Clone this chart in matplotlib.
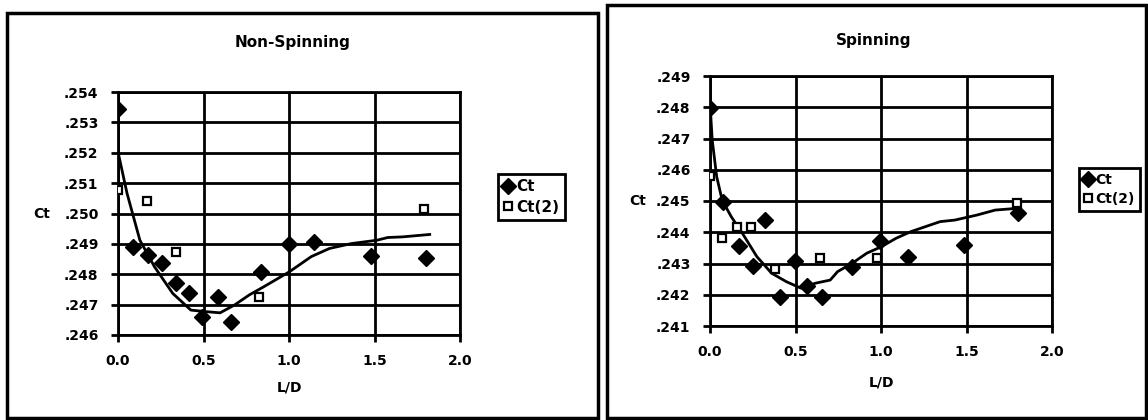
import numpy as np
import matplotlib.pyplot as plt
from matplotlib.patches import Rectangle
from matplotlib.ticker import FuncFormatter

# Non-Spinning data
ns_ld = [0.0, 0.085, 0.177, 0.256, 0.341, 0.416, 0.49, 0.586, 0.661, 0.836, 1.002, 1.145, 1.478, 1.802]
ns_ct = [0.25345, 0.24890, 0.24863, 0.24836, 0.24770, 0.24737, 0.24658, 0.24724, 0.24644,
         0.24808, 0.24901, 0.24905, 0.24860, 0.24852]
ns_ld2 = [0.0, 0.171, 0.337, 0.827, 1.791]
ns_ct2 = [0.25079, 0.25041, 0.24874, 0.24726, 0.25016]
ns_fit_ld = [0.0, 0.053, 0.128, 0.213, 0.32, 0.426, 0.512, 0.597, 0.682, 0.768, 0.853,
             1.002, 1.13, 1.237, 1.365, 1.514, 1.578, 1.663, 1.823]
ns_fit_ct = [0.25203, 0.25066, 0.24912, 0.24825, 0.24737, 0.24682, 0.24677, 0.24673, 0.24699,
             0.24732, 0.24759, 0.24808, 0.24858, 0.24885, 0.24901, 0.24912, 0.24921, 0.24923, 0.24931]

# Spinning data
sp_ld = [0.0, 0.077, 0.171, 0.249, 0.322, 0.407, 0.495, 0.57, 0.656, 0.832, 0.993, 1.158, 1.486, 1.803]
sp_ct = [0.24797, 0.24498, 0.24356, 0.24292, 0.24439, 0.24192, 0.24309, 0.24229, 0.24192,
         0.24288, 0.24373, 0.24320, 0.24359, 0.24461]
sp_ld2 = [0.0, 0.071, 0.159, 0.24, 0.382, 0.643, 0.977, 1.796]
sp_ct2 = [0.24580, 0.24381, 0.24418, 0.24418, 0.24281, 0.24317, 0.24317, 0.24495]
sp_fit_ld = [0.0, 0.013, 0.039, 0.071, 0.124, 0.189, 0.274, 0.36, 0.446, 0.532, 0.617, 0.703,
             0.746, 0.832, 0.917, 1.003, 1.089, 1.175, 1.26, 1.346, 1.432, 1.561, 1.668, 1.807]
sp_fit_ct = [0.24813, 0.24695, 0.24578, 0.24503, 0.2445, 0.24397, 0.24322, 0.24269, 0.24242,
             0.24221, 0.24237, 0.24247, 0.24274, 0.24301, 0.24333, 0.24354, 0.24381, 0.24402,
             0.24418, 0.24434, 0.24439, 0.24455, 0.24471, 0.24477]

plt.rcParams['font.family'] = ['DejaVu Sans']
plt.rcParams['font.weight'] = 'bold'

W, H = 1148, 420


def ct_fmt(v, pos):
    return ("%.3f" % v).lstrip("0")


def draw_panel(ax, title, title_xy, ld, ct, ld2, ct2, fit_ld, fit_ct, ylo, yhi,
               legend_xy, legend_fs, ylab_x, xlab_y):
    ax.plot(fit_ld, fit_ct, color='black', lw=2, zorder=3)
    h1, = ax.plot(ld, ct, ls='none', marker='D', ms=8, color='black', label='Ct', zorder=4)
    h2, = ax.plot(ld2, ct2, ls='none', marker='s', ms=6, mfc='white', mec='black',
                  mew=1.6, label='Ct(2)', zorder=4)
    ax.set_xlim(0, 2.0)
    ax.set_ylim(ylo, yhi)
    ax.set_xticks(np.arange(0, 2.01, 0.5))
    ax.set_yticks(np.arange(ylo, yhi + 0.00001, 0.001))
    ax.xaxis.set_major_formatter(FuncFormatter(lambda v, p: "%.1f" % v))
    ax.yaxis.set_major_formatter(FuncFormatter(ct_fmt))
    ax.grid(True, color='black', lw=2)
    ax.set_axisbelow(True)
    for s in ax.spines.values():
        s.set_linewidth(2)
    ax.tick_params(direction='out', length=5, width=2, labelsize=10, pad=9)
    ax.set_xlabel("L/D", fontsize=10, fontweight='bold', va='center')
    ax.xaxis.set_label_coords(0.5, xlab_y)
    ax.set_ylabel("Ct", fontsize=10, fontweight='bold', rotation=0, ha='center', va='center')
    ax.yaxis.set_label_coords(ylab_x, 0.5)
    fig.text(title_xy[0] / W, 1 - title_xy[1] / H, title, fontsize=11, fontweight='bold',
             ha='center', va='center')
    leg = fig.legend(handles=[h1, h2], loc='upper left', bbox_to_anchor=legend_xy,
                     frameon=True, fancybox=False, edgecolor='black', fontsize=legend_fs,
                     handlelength=0.6, handletextpad=0.25, borderpad=0.35, labelspacing=0.35,
                     borderaxespad=0, framealpha=1)
    leg.get_frame().set_linewidth(2)
    return leg


fig = plt.figure(figsize=(W / 100, H / 100), dpi=100)

ax1 = fig.add_axes([118 / W, 1 - 335 / H, 342 / W, 243 / H])
ax2 = fig.add_axes([710 / W, 1 - 326 / H, 342 / W, 250 / H])

draw_panel(ax1, "Non-Spinning", (293, 42), ns_ld, ns_ct, ns_ld2, ns_ct2, ns_fit_ld, ns_fit_ct,
           0.246, 0.254, (498 / W, 1 - 174 / H), 11, (42 - 118) / 342, (335 - 387) / 243)
draw_panel(ax2, "Spinning", (874, 40), sp_ld, sp_ct, sp_ld2, sp_ct2, sp_fit_ld, sp_fit_ct,
           0.241, 0.249, (1079 / W, 1 - 168 / H), 10, (638 - 710) / 342, (326 - 383) / 250)

# panel frames
fig.patches.append(Rectangle((7 / W, 2 / H), 591 / W, 405 / H, transform=fig.transFigure,
                             fill=False, lw=2.5, ec='black'))
fig.patches.append(Rectangle((607 / W, 2 / H), 539 / W, 413 / H, transform=fig.transFigure,
                             fill=False, lw=2.5, ec='black'))

fig.savefig("out.png", dpi=100)
